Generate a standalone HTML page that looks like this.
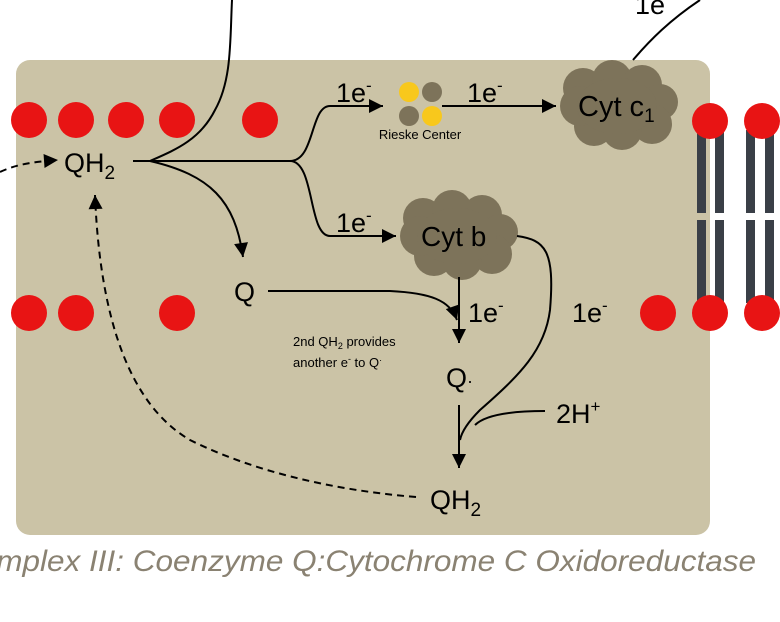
<!DOCTYPE html>
<html><head><style>body{margin:0;background:#fff}svg{display:block}</style></head><body>
<svg width="780" height="622" viewBox="0 0 780 622" xmlns="http://www.w3.org/2000/svg" font-family="Liberation Sans, sans-serif">
<defs>
<marker id="b" viewBox="0 0 10 10" markerWidth="16" markerHeight="14" refX="10" refY="5" orient="auto" markerUnits="userSpaceOnUse"><path d="M0,0 L10,5 L0,10z" fill="#000"/></marker>
</defs>
<rect x="16" y="60" width="694" height="475" rx="14" fill="#cbc3a6"/>
<g fill="#3a3f47">
<rect x="697" y="130" width="9" height="83"/><rect x="715" y="130" width="9" height="83"/>
<rect x="697" y="220" width="9" height="83"/><rect x="715" y="220" width="9" height="83"/>
<rect x="746" y="130" width="9" height="83"/><rect x="765" y="130" width="9" height="83"/>
<rect x="746" y="220" width="9" height="83"/><rect x="765" y="220" width="9" height="83"/>
</g>
<g fill="#e81414">
<circle cx="29" cy="120" r="18"/><circle cx="76" cy="120" r="18"/><circle cx="126" cy="120" r="18"/><circle cx="177" cy="120" r="18"/><circle cx="260" cy="120" r="18"/>
<circle cx="29" cy="313" r="18"/><circle cx="76" cy="313" r="18"/><circle cx="177" cy="313" r="18"/>
<circle cx="658" cy="313" r="18"/>
<circle cx="710" cy="121" r="18"/><circle cx="762" cy="121" r="18"/>
<circle cx="710" cy="313" r="18"/><circle cx="762" cy="313" r="18"/>
</g>
<g fill="#7d735a">
<circle cx="583" cy="88" r="20"/><circle cx="612" cy="80" r="20"/><circle cx="642" cy="85" r="20"/><circle cx="660" cy="102" r="18"/><circle cx="652" cy="124" r="20"/><circle cx="622" cy="130" r="20"/><circle cx="594" cy="126" r="20"/><circle cx="580" cy="106" r="20"/><ellipse cx="617" cy="106" rx="40" ry="28"/>
<circle cx="423" cy="218" r="20"/><circle cx="452" cy="210" r="20"/><circle cx="482" cy="215" r="20"/><circle cx="500" cy="232" r="18"/><circle cx="492" cy="254" r="20"/><circle cx="462" cy="260" r="20"/><circle cx="434" cy="256" r="20"/><circle cx="420" cy="236" r="20"/><ellipse cx="457" cy="236" rx="40" ry="28"/>
</g>
<circle cx="409" cy="92" r="10" fill="#f8c81c"/><circle cx="432" cy="92" r="10" fill="#7d735a"/>
<circle cx="409" cy="116" r="10" fill="#7d735a"/><circle cx="432" cy="116" r="10" fill="#f8c81c"/>
<g fill="none" stroke="#000" stroke-width="2">
<path d="M232,0 C230,40 232,80 215,110 C200,140 175,150 150,161"/>
<path d="M133,161 L290,161 C315,161 310,106 330,106 L383,106" marker-end="url(#b)"/>
<path d="M290,161 C315,161 308,236 330,236 L396,236" marker-end="url(#b)"/>
<path d="M442,106 L556,106" marker-end="url(#b)"/>
<path d="M150,161 C210,175 235,200 243,257" marker-end="url(#b)"/>
<path d="M268,291 L390,291 C430,293 450,300 457,320" marker-end="url(#b)"/>
<path d="M459,277 L459,343" marker-end="url(#b)"/>
<path d="M459,405 L459,468" marker-end="url(#b)"/>
<path d="M517,236 C545,240 555,250 550,310 C545,350 520,375 480,410 C470,420 462,430 460,440"/>
<path d="M545,411 C510,411 485,415 475,425"/>
<path d="M633,60 C650,40 670,20 700,0"/>
<path d="M416,497 C330,490 250,470 190,440 C130,405 100,320 95,195" stroke-dasharray="7,5" marker-end="url(#b)"/>
<path d="M0,172 C15,165 30,162 58,160" stroke-dasharray="7,5" marker-end="url(#b)"/>
</g>
<g font-size="27" fill="#000">
<text x="64" y="172">QH<tspan font-size="19" dy="7">2</tspan></text>
<text x="234" y="301">Q</text>
<text x="446" y="387">Q<tspan font-size="18">·</tspan></text>
<text x="430" y="509">QH<tspan font-size="19" dy="7">2</tspan></text>
<text x="556" y="423">2H<tspan font-size="17" dy="-11">+</tspan></text>
<text x="336" y="102">1e<tspan font-size="17" dy="-11">-</tspan></text>
<text x="336" y="232">1e<tspan font-size="17" dy="-11">-</tspan></text>
<text x="467" y="102">1e<tspan font-size="17" dy="-11">-</tspan></text>
<text x="468" y="322">1e<tspan font-size="17" dy="-11">-</tspan></text>
<text x="572" y="322">1e<tspan font-size="17" dy="-11">-</tspan></text>
<text x="635" y="14">1e<tspan font-size="17" dy="-11">-</tspan></text>
<text x="578" y="116" font-size="29">Cyt c<tspan font-size="19" dy="6">1</tspan></text>
<text x="421" y="246" font-size="28">Cyt b</text>
</g>
<text x="420" y="139" font-size="13" text-anchor="middle">Rieske Center</text>
<text x="293" y="346" font-size="13">2nd QH<tspan font-size="9" dy="3">2</tspan><tspan dy="-3"> provides</tspan></text>
<text x="293" y="367" font-size="13">another e<tspan font-size="9" dy="-5">-</tspan><tspan dy="5"> to Q</tspan><tspan font-size="9" dy="-4">·</tspan></text>
<text x="-44" y="571" font-size="30" font-style="italic" fill="#8a8272" textLength="800" lengthAdjust="spacingAndGlyphs">Complex III: Coenzyme Q:Cytochrome C Oxidoreductase</text>
</svg>
</body></html>
